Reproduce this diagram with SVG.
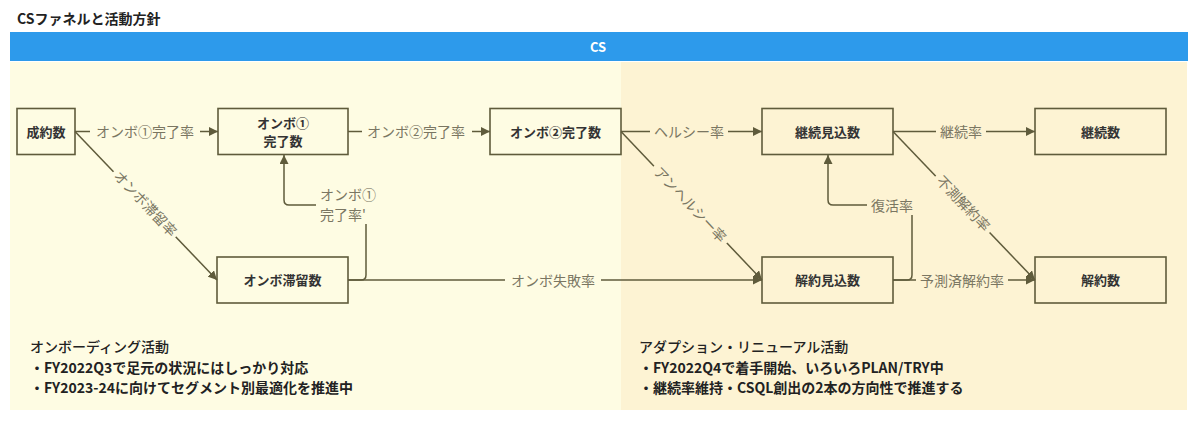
<svg xmlns="http://www.w3.org/2000/svg" width="1200" height="423" viewBox="0 0 1200 423">
<style>
text{font-family:"Noto Sans CJK JP","Noto Sans",sans-serif;dominant-baseline:central}
.node rect{fill:none;stroke:#5f5b3b;stroke-width:1.6}
.node text{font-size:13px;font-weight:700;fill:#333;text-anchor:middle}
.edge{fill:none;stroke:#5f5b3b;stroke-width:1.5}
.lbl{font-size:14px;fill:#7a7662;text-anchor:middle}
.bgL{fill:#fefce3}
.bgR{fill:#fdf3d3}
.note{font-size:14px;fill:#222}
</style>
<defs>
<marker id="arr" viewBox="0 0 10 10" refX="10" refY="5" markerWidth="9" markerHeight="9" markerUnits="userSpaceOnUse" orient="auto">
<path d="M0,0 L10,5 L0,10 z" fill="#5f5b3b"/>
</marker>
</defs>
<rect width="1200" height="423" fill="#ffffff"/>
<text x="17" y="18" font-size="14" font-weight="700" fill="#222">CSファネルと活動方針</text>
<g id="cs-header">
<rect x="10" y="32" width="1178" height="29" fill="#2d9aeb"/>
<text x="598" y="46.5" font-size="13" font-weight="700" fill="#fff" text-anchor="middle">CS</text>
</g>
<g id="regions">
<rect x="10" y="62" width="611" height="348" fill="#fefce3"/>
<rect x="621" y="62" width="566" height="348" fill="#fdf3d3"/>
</g>
<g id="connectors">
<path class="edge" d="M75,131.5 H218" marker-end="url(#arr)"/>
<path class="edge" d="M348,131.5 H490" marker-end="url(#arr)"/>
<path class="edge" d="M621,131.5 H762" marker-end="url(#arr)"/>
<path class="edge" d="M893,131.5 H1035" marker-end="url(#arr)"/>
<path class="edge" d="M75,131.5 L217,280" marker-end="url(#arr)"/>
<path class="edge" d="M621,131.5 L762,280" marker-end="url(#arr)"/>
<path class="edge" d="M893,131.5 L1035,280" marker-end="url(#arr)"/>
<path class="edge" d="M348,280 H762" marker-end="url(#arr)"/>
<path class="edge" d="M893,280 H1035" marker-end="url(#arr)"/>
<path class="edge" d="M348,280 H361 Q366,280 366,275 V210 Q366,205 361,205 H289 Q284,205 284,200 V155" marker-end="url(#arr)"/>
<path class="edge" d="M893,280 H907 Q912,280 912,275 V210 Q912,205 907,205 H833 Q828,205 828,200 V155" marker-end="url(#arr)"/>
<!-- labels -->
<rect class="bgL" x="90" y="122" width="110" height="19"/>
<text class="lbl" x="145" y="131">オンボ①完了率</text>
<rect class="bgL" x="362" y="122" width="110" height="19"/>
<text class="lbl" x="416" y="131">オンボ②完了率</text>
<rect class="bgR" x="650" y="122" width="78" height="19"/>
<text class="lbl" x="689" y="131">ヘルシー率</text>
<rect class="bgR" x="936" y="122" width="50" height="19"/>
<text class="lbl" x="961" y="131">継続率</text>
<rect class="bgL" x="505" y="270" width="96" height="19"/>
<text class="lbl" x="553" y="279.5">オンボ失敗率</text>
<rect class="bgR" x="916" y="270" width="92" height="19"/>
<text class="lbl" x="962" y="279.5">予測済解約率</text>
<rect class="bgL" x="316" y="184" width="58" height="40"/>
<text class="lbl" x="320" y="194" style="text-anchor:start">オンボ①</text>
<text class="lbl" x="320" y="214" style="text-anchor:start">完了率'</text>
<rect class="bgR" x="867" y="195" width="50" height="20"/>
<text class="lbl" x="892" y="205">復活率</text>
<g transform="rotate(46.4 146 203)">
<rect class="bgL" x="101" y="194" width="90" height="18"/>
<text class="lbl" x="146" y="203">オンボ滞留率</text>
</g>
<g transform="rotate(46.4 691 204)">
<rect class="bgR" x="638" y="195" width="106" height="18"/>
<text class="lbl" x="691" y="204">アンヘルシー率</text>
</g>
<g transform="rotate(46.4 964 203)">
<rect class="bgR" x="925" y="194" width="78" height="18"/>
<text class="lbl" x="964" y="203">不測解約率</text>
</g>
</g>
<g id="n-seiyaku" class="node"><rect x="17" y="108.5" width="58" height="46"/><text x="46" y="131">成約数</text></g>
<g id="n-onbo1" class="node"><rect x="218" y="108.5" width="130" height="46"/><text x="283" y="122">オンボ①</text><text x="283" y="140">完了数</text></g>
<g id="n-onbo2" class="node"><rect x="490" y="108.5" width="131" height="46"/><text x="555.5" y="131">オンボ②完了数</text></g>
<g id="n-keizokumikomi" class="node"><rect x="762" y="108.5" width="131" height="46"/><text x="827.5" y="131">継続見込数</text></g>
<g id="n-keizoku" class="node"><rect x="1035" y="108.5" width="131" height="46"/><text x="1100.5" y="131">継続数</text></g>
<g id="n-tairyu" class="node"><rect x="217" y="257" width="131" height="46"/><text x="282.5" y="279.5">オンボ滞留数</text></g>
<g id="n-kaiyakumikomi" class="node"><rect x="762" y="257" width="131" height="46"/><text x="827.5" y="279.5">解約見込数</text></g>
<g id="n-kaiyaku" class="node"><rect x="1035" y="257" width="131" height="46"/><text x="1100.5" y="279.5">解約数</text></g>
<g id="note-onboarding">
<text class="note" x="30" y="346" font-weight="500">オンボーディング活動</text>
<text class="note" x="30" y="366.5" font-weight="700">・FY2022Q3で足元の状況にはしっかり対応</text>
<text class="note" x="30" y="386.5" font-weight="700">・FY2023-24に向けてセグメント別最適化を推進中</text>
</g>
<g id="note-adoption">
<text class="note" x="639" y="346" font-weight="500">アダプション・リニューアル活動</text>
<text class="note" x="639" y="366.5" font-weight="700">・FY2022Q4で着手開始、いろいろPLAN/TRY中</text>
<text class="note" x="639" y="386.5" font-weight="700">・継続率維持・CSQL創出の2本の方向性で推進する</text>
</g>
</svg>
